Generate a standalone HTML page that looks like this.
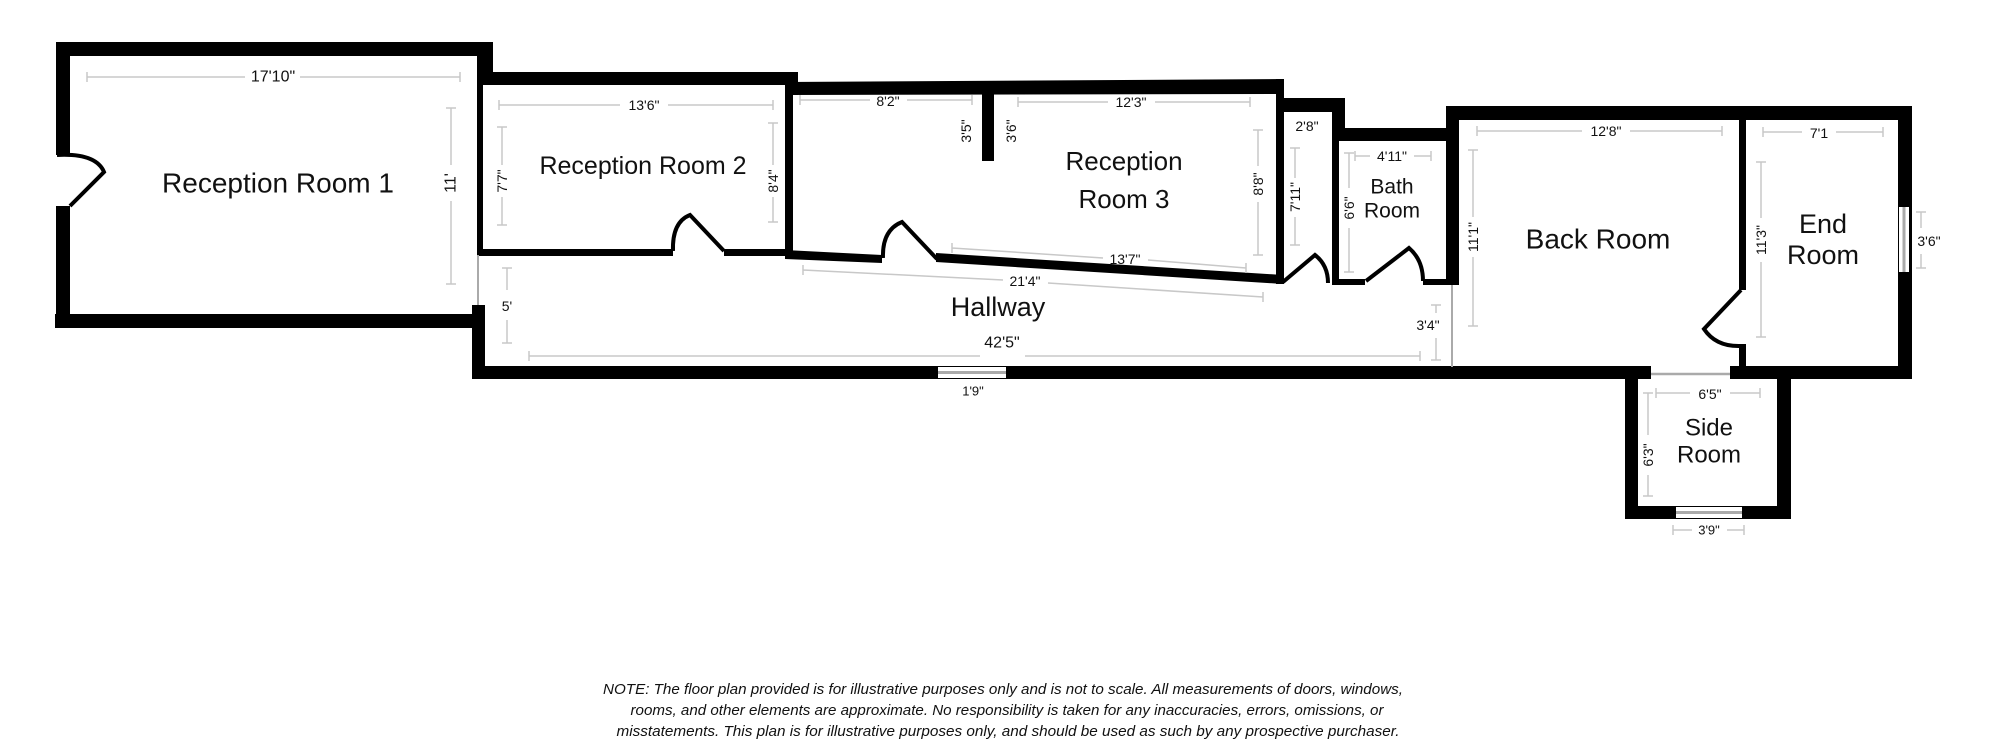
<!DOCTYPE html>
<html><head><meta charset="utf-8"><style>
html,body{margin:0;padding:0;background:#fff;}
svg{display:block;}
text{font-family:"Liberation Sans",Arial,sans-serif;fill:#111;}
.d{font-size:14px;text-anchor:middle;dominant-baseline:central;}
.r{font-size:27px;text-anchor:middle;dominant-baseline:central;}
.g{stroke:#c8c8c8;stroke-width:1.5;fill:none;}
.dr{stroke:#000;stroke-width:4;fill:none;stroke-linejoin:miter;}
</style></head><body>
<svg width="2000" height="754" viewBox="0 0 2000 754" xmlns="http://www.w3.org/2000/svg">
<g fill="#000">
<!-- Reception Room 1 -->
<rect x="56" y="42" width="437" height="14"/>
<rect x="477" y="42" width="16" height="43"/>
<rect x="56" y="42" width="14" height="113"/>
<rect x="56" y="206" width="14" height="122"/>
<rect x="55" y="314" width="430" height="14"/>
<!-- RR2 -->
<rect x="477" y="72" width="321" height="13"/>
<rect x="477" y="85" width="6" height="170"/>
<rect x="477" y="249" width="196" height="7"/>
<rect x="724" y="249" width="62" height="7"/>
<rect x="785" y="72" width="13" height="23"/>
<!-- RR3 -->
<polygon points="785,82 1283,79 1283,94 785,95"/>
<rect x="785" y="82" width="8" height="174"/>
<rect x="982" y="90" width="12" height="71"/>
<polygon points="785,250 882,255 882,263 785,259"/>
<polygon points="936,253 1283,275 1283,284 936,262"/>
<rect x="1276" y="79" width="8" height="205"/>
<!-- corridor / bath -->
<rect x="1276" y="98" width="69" height="14"/>
<rect x="1332" y="98" width="13" height="43"/>
<rect x="1332" y="128" width="114" height="13"/>
<rect x="1332" y="128" width="7" height="157"/>
<rect x="1332" y="279" width="33" height="6"/>
<rect x="1423" y="279" width="36" height="6"/>
<!-- back room -->
<rect x="1446" y="106" width="466" height="14"/>
<rect x="1446" y="106" width="13" height="179"/>
<rect x="1898" y="106" width="14" height="273"/>
<rect x="1739" y="120" width="7" height="170"/>
<rect x="1739" y="344" width="7" height="23"/>
<!-- hallway -->
<rect x="472" y="305" width="13" height="74"/>
<rect x="472" y="366" width="1179" height="13"/>
<rect x="1730" y="366" width="182" height="13"/>
<!-- side room -->
<rect x="1625" y="366" width="13" height="153"/>
<rect x="1777" y="366" width="14" height="153"/>
<rect x="1625" y="506" width="166" height="13"/>
</g>
<!-- windows -->
<rect x="938" y="367" width="68" height="11" fill="#fff"/>
<line x1="938" y1="372.5" x2="1006" y2="372.5" stroke="#aaa" stroke-width="3"/>
<rect x="1899" y="207" width="10" height="65" fill="#fff"/>
<line x1="1904" y1="207" x2="1904" y2="272" stroke="#aaa" stroke-width="3"/>
<rect x="1676" y="507" width="66" height="11" fill="#fff"/>
<line x1="1676" y1="512.5" x2="1742" y2="512.5" stroke="#aaa" stroke-width="3"/>
<!-- openings -->
<line x1="478" y1="255" x2="478" y2="305" stroke="#aaa" stroke-width="2"/>
<line x1="1452" y1="285" x2="1452" y2="367" stroke="#aaa" stroke-width="2"/>
<line x1="1651" y1="374" x2="1730" y2="374" stroke="#aaa" stroke-width="2.5"/>
<!-- doors -->
<path class="dr" d="M57,155 Q96,153 104,172 L70,206"/>
<path class="dr" d="M673,251 Q672,222 690,215 L724,251"/>
<path class="dr" d="M883,258 Q882,230 902,222 L937,259"/>
<path class="dr" d="M1283,282 L1315,255 Q1328,265 1328,283"/>
<path class="dr" d="M1366,281 L1409,248 Q1423,260 1423,281"/>
<path class="dr" d="M1741,290 L1704,329 Q1716,347 1741,346"/>
<!-- dimension lines -->
<g class="g">
<path d="M87,77H245 M300,77H460 M87,72V82 M460,72V82"/>
<path d="M451,108V165 M451,201V284 M446,108H456 M446,284H456"/>
<path d="M499,105H620 M668,105H773 M499,100V110 M773,100V110"/>
<path d="M502,127V165 M502,197V225 M497,127H507 M497,225H507"/>
<path d="M773,123V165 M773,197V222 M768,123H778 M768,222H778"/>
<path d="M800,100H870 M907,100H972 M800,95V105 M972,95V105"/>
<path d="M1018,102H1108 M1155,102H1250 M1018,97V107 M1250,97V107"/>
<path d="M1258,130V166 M1258,202V255 M1253,130H1263 M1253,255H1263"/>
<path d="M952,248L1103,258 M1148,260L1246,268 M952,243V253 M1246,263V273"/>
<path d="M803,270L1003,280 M1048,283L1263,297 M803,265V275 M1263,292V302"/>
<path d="M507,268V290 M507,320V343 M502,268H512 M502,343H512"/>
<path d="M529,356H980 M1025,356H1420 M529,351V361 M1420,351V361"/>
<path d="M1436,305V313 M1436,338V360 M1431,305H1441 M1431,360H1441"/>
<path d="M1295,148V178 M1295,217V245 M1290,148H1300 M1290,245H1300"/>
<path d="M1355,156H1370 M1414,156H1431 M1355,151V161 M1431,151V161"/>
<path d="M1349,153V188 M1349,228V272 M1344,153H1354 M1344,272H1354"/>
<path d="M1477,131H1582 M1630,131H1722 M1477,126V136 M1722,126V136"/>
<path d="M1473,150V217 M1473,257V326 M1468,150H1478 M1468,326H1478"/>
<path d="M1763,132H1802 M1836,132H1883 M1763,127V137 M1883,127V137"/>
<path d="M1761,162V218 M1761,262V337 M1756,162H1766 M1756,337H1766"/>
<path d="M1921,212V228 M1921,254V268 M1916,212H1926 M1916,268H1926"/>
<path d="M1656,393H1690 M1730,393H1760 M1656,388V398 M1760,388V398"/>
<path d="M1648,393V435 M1648,475V496 M1643,393H1653 M1643,496H1653"/>
<path d="M1673,530H1692 M1727,530H1744 M1673,525V535 M1744,525V535"/>
</g>
<!-- dimension labels -->
<text class="d" x="273" y="77" style="font-size:16px">17'10"</text>
<text class="d" transform="translate(451,183) rotate(-90)" style="font-size:16px">11'</text>
<text class="d" x="644" y="105">13'6"</text>
<text class="d" transform="translate(502,181) rotate(-90)">7'7"</text>
<text class="d" transform="translate(773,181) rotate(-90)">8'4"</text>
<text class="d" x="888" y="101">8'2"</text>
<text class="d" transform="translate(966,131) rotate(-90)">3'5"</text>
<text class="d" transform="translate(1011,131) rotate(-90)">3'6"</text>
<text class="d" x="1131" y="102">12'3"</text>
<text class="d" transform="translate(1258,184) rotate(-90)">8'8"</text>
<text class="d" x="1125" y="259">13'7"</text>
<text class="d" x="1025" y="281">21'4"</text>
<text class="d" x="507" y="306">5'</text>
<text class="d" x="1002" y="343" style="font-size:16px">42'5"</text>
<text class="d" x="973" y="391" style="font-size:13px">1'9"</text>
<text class="d" x="1428" y="325">3'4"</text>
<text class="d" x="1307" y="126">2'8"</text>
<text class="d" transform="translate(1295,197) rotate(-90)">7'11"</text>
<text class="d" x="1392" y="156">4'11"</text>
<text class="d" transform="translate(1349,208) rotate(-90)">6'6"</text>
<text class="d" x="1606" y="131">12'8"</text>
<text class="d" transform="translate(1473,237) rotate(-90)">11'1"</text>
<text class="d" x="1819" y="133">7'1</text>
<text class="d" transform="translate(1761,240) rotate(-90)">11'3"</text>
<text class="d" x="1929" y="241">3'6"</text>
<text class="d" x="1710" y="394">6'5"</text>
<text class="d" transform="translate(1648,455) rotate(-90)">6'3"</text>
<text class="d" x="1709" y="530" style="font-size:13px">3'9"</text>
<!-- room labels -->
<text class="r" x="278" y="183" style="font-size:28px">Reception Room 1</text>
<text class="r" x="643" y="166" style="font-size:25px">Reception Room 2</text>
<text class="r" x="1124" y="161" style="font-size:26px">Reception</text>
<text class="r" x="1124" y="199" style="font-size:26px">Room 3</text>
<text class="r" x="998" y="307" style="font-size:27px">Hallway</text>
<text class="r" x="1392" y="187" style="font-size:21px">Bath</text>
<text class="r" x="1392" y="211" style="font-size:21px">Room</text>
<text class="r" x="1598" y="239" style="font-size:28px">Back Room</text>
<text class="r" x="1823" y="224" style="font-size:27px">End</text>
<text class="r" x="1823" y="255" style="font-size:27px">Room</text>
<text class="r" x="1709" y="428" style="font-size:24px">Side</text>
<text class="r" x="1709" y="455" style="font-size:24px">Room</text>
<!-- note -->
<g style="font-size:15px;font-style:italic;" text-anchor="middle">
<text x="1003" y="694" textLength="800" lengthAdjust="spacingAndGlyphs">NOTE: The floor plan provided is for illustrative purposes only and is not to scale. All measurements of doors, windows,</text>
<text x="1007" y="715" textLength="753" lengthAdjust="spacingAndGlyphs">rooms, and other elements are approximate. No responsibility is taken for any inaccuracies, errors, omissions, or</text>
<text x="1008" y="736" textLength="783" lengthAdjust="spacingAndGlyphs">misstatements. This plan is for illustrative purposes only, and should be used as such by any prospective purchaser.</text>
</g>
</svg>
</body></html>
